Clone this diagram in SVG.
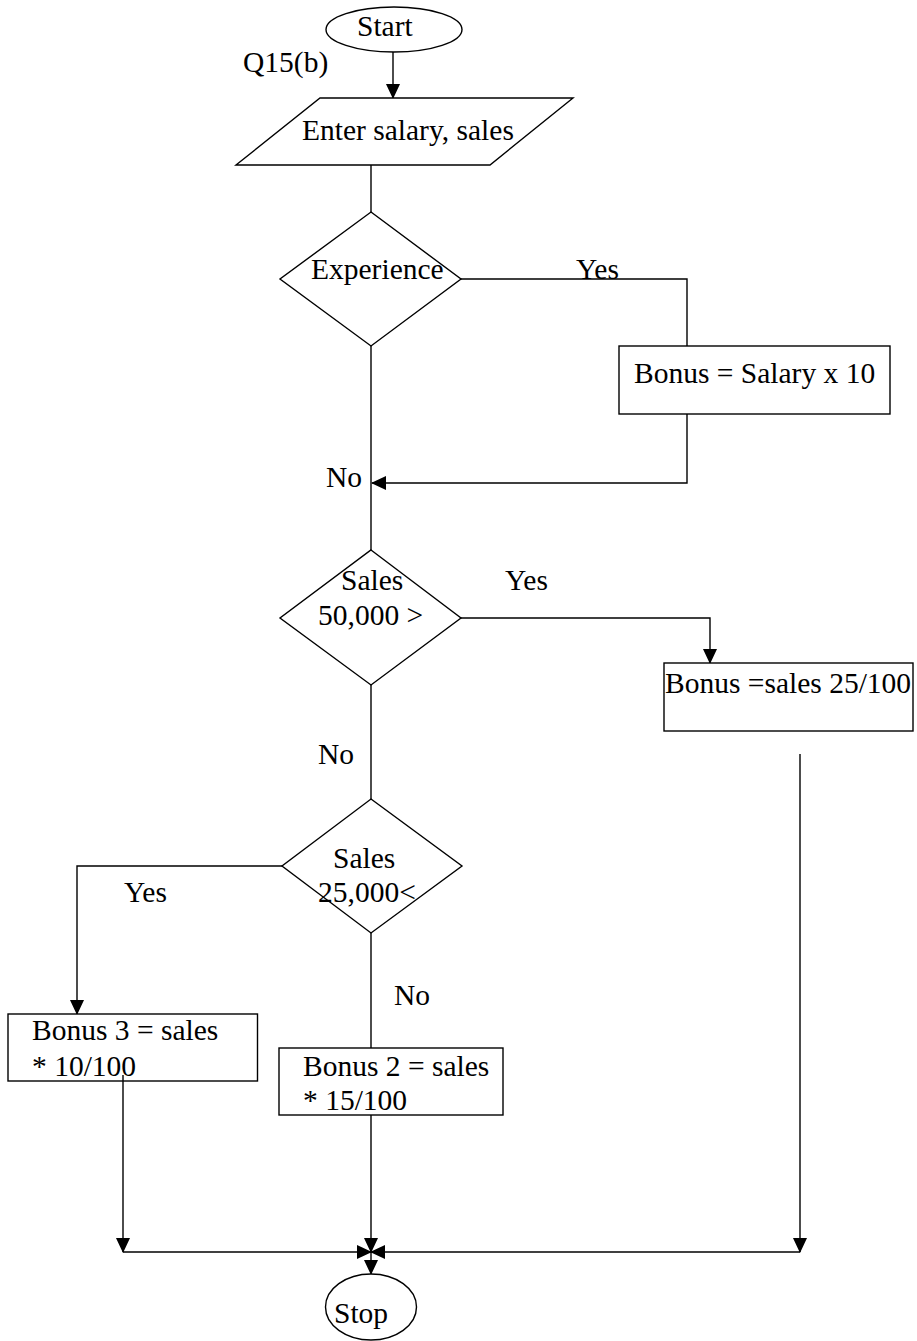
<svg xmlns="http://www.w3.org/2000/svg" width="917" height="1341" viewBox="0 0 917 1341" font-family="'Liberation Serif', 'Times New Roman', Tinos, 'DejaVu Serif', serif" font-size="29.5">
<style>
.s{fill:#fff;stroke:#000;stroke-width:1.4}
.c{fill:none;stroke:#000;stroke-width:1.4}
.t{font-family:'Liberation Serif','Times New Roman',Tinos,'DejaVu Serif',serif;font-size:29.5px;fill:#000}
</style>
<defs>
<marker id="ah" markerUnits="userSpaceOnUse" markerWidth="15" markerHeight="14" refX="14" refY="7" orient="auto" viewBox="0 0 15 14">
<path d="M0,0 L15,7 L0,14 z" fill="#000"/>
</marker>
</defs>
<rect width="917" height="1341" fill="#fff"/>
<g id="connectors">
<line class="c" x1="393" y1="52" x2="393" y2="98" marker-end="url(#ah)"/>
<line class="c" x1="371" y1="165" x2="371" y2="212"/>
<polyline class="c" points="461,279 687,279 687,346"/>
<polyline class="c" points="687,414 687,483 372,483" marker-end="url(#ah)"/>
<line class="c" x1="371" y1="346" x2="371" y2="550"/>
<polyline class="c" points="461,618 710,618 710,663" marker-end="url(#ah)"/>
<line class="c" x1="371" y1="685" x2="371" y2="799"/>
<polyline class="c" points="282,866 77,866 77,1014" marker-end="url(#ah)"/>
<line class="c" x1="371" y1="933" x2="371" y2="1048"/>
<line class="c" x1="800" y1="754" x2="800" y2="1252" marker-end="url(#ah)"/>
<line class="c" x1="123" y1="1075" x2="123" y2="1252" marker-end="url(#ah)"/>
<line class="c" x1="371" y1="1115" x2="371" y2="1252" marker-end="url(#ah)"/>
<line class="c" x1="123" y1="1252" x2="371" y2="1252" marker-end="url(#ah)"/>
<line class="c" x1="800" y1="1252" x2="371" y2="1252" marker-end="url(#ah)"/>
<line class="c" x1="371" y1="1252" x2="371" y2="1274" marker-end="url(#ah)"/>
</g>
<g id="start">
<ellipse class="s" cx="394" cy="29.5" rx="68" ry="22.5"/>
<text class="t" x="357" y="36">Start</text>
</g>
<g id="label-q15">
<text class="t" x="243" y="72">Q15(b)</text>
</g>
<g id="input">
<polygon class="s" points="320,98 573,98 490,165 236,165"/>
<text class="t" x="302" y="140">Enter salary, sales</text>
</g>
<g id="experience">
<polygon class="s" points="371,212 461,279 371,346 280,279"/>
<text class="t" x="311" y="279">Experience</text>
</g>
<g id="bonus-salary">
<rect class="s" x="619" y="346" width="271" height="68"/>
<text class="t" x="634" y="383">Bonus = Salary x 10</text>
</g>
<g id="sales50">
<polygon class="s" points="371,550 461,618 371,685 280,618"/>
<text class="t" x="341" y="590">Sales</text>
<text class="t" x="318" y="625">50,000 &gt;</text>
</g>
<g id="bonus25">
<rect class="s" x="664" y="663" width="249" height="68"/>
<text class="t" x="665" y="693">Bonus =sales 25/100</text>
</g>
<g id="sales25">
<polygon class="s" points="371,799 462,866 371,933 282,866"/>
<text class="t" x="333" y="868">Sales</text>
<text class="t" x="318" y="902">25,000&lt;</text>
</g>
<g id="bonus3">
<rect class="s" x="8" y="1014" width="249.5" height="67"/>
<text class="t" x="32" y="1040">Bonus 3 = sales</text>
<text class="t" x="32" y="1076">* 10/100</text>
</g>
<g id="bonus2">
<rect class="s" x="279" y="1048" width="224" height="67"/>
<text class="t" x="303" y="1076">Bonus 2 = sales</text>
<text class="t" x="303" y="1110">* 15/100</text>
</g>
<line class="c" x1="123" y1="1075" x2="123" y2="1081"/>
<g id="stop">
<ellipse class="s" cx="371" cy="1307" rx="45.5" ry="33"/>
<text class="t" x="334" y="1323">Stop</text>
</g>
<g id="edge-labels">
<text class="t" x="576" y="279">Yes</text>
<text class="t" x="326" y="487">No</text>
<text class="t" x="505" y="590">Yes</text>
<text class="t" x="318" y="764">No</text>
<text class="t" x="124" y="902">Yes</text>
<text class="t" x="394" y="1005">No</text>
</g>
</svg>
